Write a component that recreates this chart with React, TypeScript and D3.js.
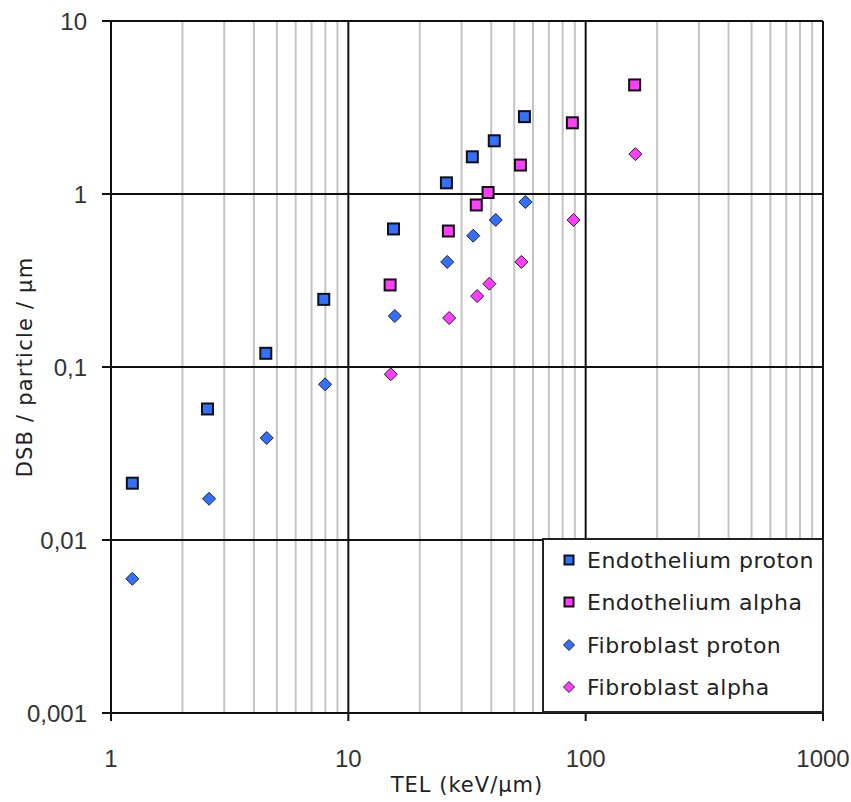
import React from "react";
import * as d3 from "d3";

const endoProtonTEL = [1.23, 2.55, 4.49, 7.88, 15.5, 25.9, 33.3, 41.2, 55.2];
const endoProtonDSB = [0.0213, 0.0572, 0.12, 0.246, 0.628, 1.16, 1.64, 2.03, 2.8];

const endoAlphaTEL = [15.0, 26.4, 34.6, 38.8, 53.1, 87.9, 160.8];
const endoAlphaDSB = [0.298, 0.611, 0.864, 1.02, 1.47, 2.58, 4.27];

const fibroProtonTEL = [1.23, 2.59, 4.53, 7.98, 15.7, 26.1, 33.6, 41.8, 55.7];
const fibroProtonDSB = [0.00597, 0.0173, 0.0389, 0.0794, 0.197, 0.405, 0.574, 0.708, 0.899];

const fibroAlphaTEL = [15.1, 26.6, 34.9, 39.3, 53.6, 88.9, 162];
const fibroAlphaDSB = [0.0908, 0.192, 0.257, 0.303, 0.405, 0.708, 1.7];

const xTicks = [1, 10, 100, 1000];
const xTickLabels = ["1", "10", "100", "1000"];
const yTicks = [0.001, 0.01, 0.1, 1, 10];
const yTickLabels = ["0,001", "0,01", "0,1", "1", "10"];

const seriesNames = ["Endothelium proton", "Endothelium alpha", "Fibroblast proton", "Fibroblast alpha"];

const BLUE = "#3370ff";
const MAGENTA = "#ff3cff";

type Series = { name: string; xs: number[]; ys: number[]; color: string; shape: "square" | "diamond" };

const series: Series[] = [
  { name: seriesNames[0], xs: endoProtonTEL, ys: endoProtonDSB, color: BLUE, shape: "square" },
  { name: seriesNames[1], xs: endoAlphaTEL, ys: endoAlphaDSB, color: MAGENTA, shape: "square" },
  { name: seriesNames[2], xs: fibroProtonTEL, ys: fibroProtonDSB, color: BLUE, shape: "diamond" },
  { name: seriesNames[3], xs: fibroAlphaTEL, ys: fibroAlphaDSB, color: MAGENTA, shape: "diamond" },
];

const W = 851;
const H = 802;
const L = 111, R = 823, T = 21, B = 713;

const x = d3.scaleLog().domain([1, 1000]).range([L, R]);
const y = d3.scaleLog().domain([0.001, 10]).range([B, T]);

function Marker({ cx, cy, color, shape, size }: { cx: number; cy: number; color: string; shape: string; size: number }) {
  if (shape === "square") {
    return (
      <rect x={cx - size / 2} y={cy - size / 2} width={size} height={size} fill={color} stroke="#111" strokeWidth={2} />
    );
  }
  const h = size;
  return (
    <path
      d={`M${cx},${cy - h} L${cx + h},${cy} L${cx},${cy + h} L${cx - h},${cy} Z`}
      fill={color}
      stroke="#222"
      strokeWidth={1}
    />
  );
}

export default function App() {
  const minorX: number[] = [];
  for (let dec = 1; dec < 1000; dec *= 10) {
    for (let k = 2; k <= 9; k++) minorX.push(dec * k);
  }
  const tickFont = "'Liberation Sans', Arial, sans-serif";
  const textFont = "'DejaVu Sans', Verdana, sans-serif";

  const legL = 543, legT = 539, legR = 823, legB = 712;
  const legRows = [560, 602, 645, 687];

  return (
    <svg width={W} height={H} style={{ position: "absolute", left: 0, top: 0, background: "#fff" }}>
      <rect x={0} y={0} width={W} height={H} fill="#fff" />
      {minorX.map((v) => (
        <line key={"mx" + v} x1={x(v)} x2={x(v)} y1={T} y2={B} stroke="#c4c4c4" strokeWidth={2} />
      ))}
      {yTicks.map((v) => (
        <line key={"gy" + v} x1={L - 9} x2={R} y1={y(v)} y2={y(v)} stroke="#111" strokeWidth={2} />
      ))}
      {xTicks.map((v) => (
        <line key={"gx" + v} x1={x(v)} x2={x(v)} y1={T} y2={B + 8} stroke="#111" strokeWidth={2} />
      ))}

      {yTicks.map((v, i) => (
        <text
          key={"yl" + v}
          x={87}
          y={y(v)}
          textAnchor="end"
          dominantBaseline="central"
          fontFamily={tickFont}
          fontSize={24}
          fill="#333"
        >
          {yTickLabels[i]}
        </text>
      ))}
      {xTicks.map((v, i) => (
        <text key={"xl" + v} x={x(v)} y={767} textAnchor="middle" fontFamily={tickFont} fontSize={24} fill="#333">
          {xTickLabels[i]}
        </text>
      ))}

      <text x={(L + R) / 2} y={792} textAnchor="middle" fontFamily={textFont} fontSize={21} letterSpacing={1} fill="#222">
        TEL (keV/µm)
      </text>
      <text
        transform={`translate(25,${(T + B) / 2}) rotate(-90)`}
        textAnchor="middle"
        dominantBaseline="central"
        fontFamily={textFont}
        fontSize={21}
        letterSpacing={1.2}
        fill="#222"
      >
        DSB / particle / µm
      </text>

      {series.map((s) =>
        s.xs.map((xv, i) => (
          <Marker
            key={s.name + i}
            cx={x(xv)}
            cy={y(s.ys[i])}
            color={s.color}
            shape={s.shape}
            size={s.shape === "square" ? 11 : 6.5}
          />
        ))
      )}

      <rect x={legL} y={legT} width={legR - legL} height={legB - legT} fill="#fff" stroke="#222" strokeWidth={2} />
      {series.map((s, i) => (
        <g key={"lg" + i}>
          <Marker cx={569} cy={legRows[i]} color={s.color} shape={s.shape} size={s.shape === "square" ? 9 : 5.5} />
          <text
            x={587}
            y={legRows[i]}
            dominantBaseline="central"
            fontFamily={textFont}
            fontSize={22}
            letterSpacing={0.5}
            fill="#222"
          >
            {s.name}
          </text>
        </g>
      ))}
    </svg>
  );
}
